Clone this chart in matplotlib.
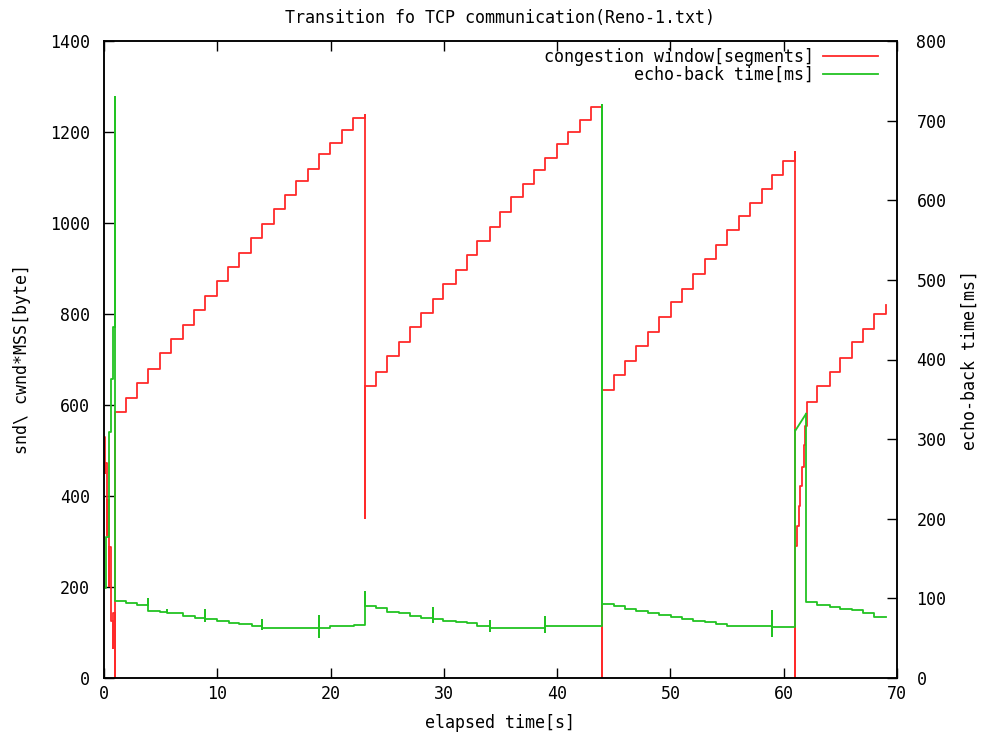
import matplotlib
matplotlib.use("Agg")
import matplotlib.pyplot as plt

# ---------------- data ----------------
# congestion window (left axis), step series (time [s], value)
cwnd_t = [0.0, 0.1, 0.12, 0.27, 0.3, 0.45, 0.47, 0.62, 0.64, 0.79, 0.81, 0.96, 1.01, 1.01,
          1.98, 2.93, 3.90, 4.98, 5.93, 6.98, 7.98, 8.95, 9.98, 10.95, 11.89, 13.01, 13.95,
          15.01, 15.94, 16.95, 18.01, 18.97, 19.95, 21.01, 21.98, 23.06, 23.06, 23.06,
          24.0, 24.97, 26.06, 26.97, 27.94, 29.03, 29.96, 31.06, 32.03, 32.96, 34.06, 34.99,
          35.96, 37.02, 37.96, 38.93, 40.02, 40.96, 42.05, 43.02, 43.93, 43.93,
          45.02, 45.99, 46.96, 48.02, 49.01, 50.07, 51.04, 51.96, 53.02, 53.99, 54.98, 56.04,
          56.98, 58.04, 59.01, 59.98, 61.04, 61.04, 61.04,
          61.18, 61.32, 61.46, 61.6, 61.75, 61.9, 62.04,
          62.94, 64.07, 64.97, 66.03, 67.0, 67.97, 69.07]
cwnd_v = [530, 450, 472, 314, 391, 202, 288, 125, 125, 66, 143, 44, 0, 585,
          616, 649, 680, 714, 744, 776, 808, 839, 873, 904, 933, 968, 998,
          1031, 1062, 1093, 1119, 1151, 1176, 1204, 1231, 1238, 352, 642,
          673, 708, 738, 772, 802, 832, 866, 897, 930, 960, 992, 1025,
          1057, 1086, 1116, 1143, 1174, 1201, 1227, 1256, 0, 633,
          666, 697, 730, 761, 794, 826, 856, 889, 921, 951, 985, 1015,
          1045, 1075, 1106, 1137, 1157, 0, 290,
          334, 378, 421, 464, 511, 554, 607,
          642, 672, 703, 738, 768, 801, 820]

# echo-back time (right axis), step series part 1 (time [s], ms)
echo_t = [0.0, 0.17, 0.41, 0.58, 0.79, 0.96, 1.0, 1.0,
          1.98, 2.93, 3.90, 3.90, 4.98, 5.57, 5.57, 6.98, 8.07, 8.95, 8.95, 8.95,
          9.98, 11.0, 11.89, 13.07, 13.95, 13.95, 13.95, 18.94, 18.94, 18.94,
          19.97, 22.03, 23.06, 23.06,
          24.0, 24.97, 26.06, 26.97, 27.94, 29.03, 29.03, 29.03,
          29.96, 31.06, 32.03, 32.91, 34.08, 34.08, 34.08, 38.93, 38.93, 38.93,
          43.93, 43.93,
          45.02, 45.99, 46.96, 48.02, 49.01, 50.07, 51.04, 51.96, 53.02, 53.99, 54.98,
          58.99, 58.99, 58.99, 61.04, 61.04]
echo_v = [113, 177, 309, 375, 441, 504, 730, 97,
          94.4, 92.2, 99, 84.6, 83.3, 86, 82, 77.8, 75, 85, 71, 74.5,
          71.6, 69.5, 67.4, 65.7, 73, 62, 63.2, 78, 52, 63.2,
          65.3, 66.6, 108, 90.9,
          88.3, 83.4, 81.2, 77.9, 75, 87.6, 70.7, 73.7,
          71.6, 70.0, 68.7, 65.7, 71.6, 59, 63.2, 76, 57.4, 65.3,
          720, 93,
          91, 87, 84, 82, 79, 77, 74, 72, 70, 68, 65,
          84, 53, 64, 64, 311]
# sloped part around the 61 s loss
echo_ramp_t = [61.04, 61.98]
echo_ramp_v = [311, 332]
# step series part 2
echo2_t = [61.98, 61.98, 62.94, 64.07, 64.97, 66.03, 67.0, 67.97, 69.07]
echo2_v = [332, 95, 92, 89, 87, 85, 82, 77, 77]

title = "Transition fo TCP communication(Reno-1.txt)"
xlabel = "elapsed time[s]"
ylabel_left = "snd\\ cwnd*MSS[byte]"
ylabel_right = "echo-back time[ms]"
label_cwnd = "congestion window[segments]"
label_echo = "echo-back time[ms]"
xticks = [0, 10, 20, 30, 40, 50, 60, 70]
yticks_left = [0, 200, 400, 600, 800, 1000, 1200, 1400]
yticks_right = [0, 100, 200, 300, 400, 500, 600, 700, 800]

# ---------------- style ----------------
FONT = "DejaVu Sans Mono"
FS = 12
RED = "#ff2a2a"
GREEN = "#22c322"
plt.rcParams["font.family"] = FONT

fig = plt.figure(figsize=(9.81, 7.34), dpi=100)
ax = fig.add_axes([104 / 981, 56 / 734, (897 - 104) / 981, (678 - 41) / 734])
ax2 = ax.twinx()

l1, = ax.plot(cwnd_t, cwnd_v, drawstyle="steps-post", color=RED, lw=1.3,
              label=label_cwnd)
l2, = ax2.plot(echo_t, echo_v, drawstyle="steps-post", color=GREEN, lw=1.3,
               label=label_echo)
ax2.plot(echo_ramp_t, echo_ramp_v, color=GREEN, lw=1.3)
ax2.plot(echo2_t, echo2_v, drawstyle="steps-post", color=GREEN, lw=1.3)

ax.set_xlim(0, 70)
ax.set_ylim(0, 1400)
ax2.set_ylim(0, 800)
ax.set_xticks(xticks)
ax.set_yticks(yticks_left)
ax2.set_yticks(yticks_right)

ax.tick_params(axis="both", direction="in", length=7, width=1.0, labelsize=FS,
               top=True, right=False)
ax.tick_params(axis="y", pad=10)
ax.tick_params(axis="x", pad=5)
ax2.tick_params(axis="y", direction="in", length=7, width=1.0, labelsize=FS, pad=14)
for a in (ax, ax2):
    for s in a.spines.values():
        s.set_linewidth(1.1)
        s.set_color("black")

ax.set_title(title, fontsize=FS, pad=13)
ax.set_xlabel(xlabel, fontsize=FS, labelpad=8)
ax.set_ylabel(ylabel_left, fontsize=FS, labelpad=14)
ax2.set_ylabel(ylabel_right, fontsize=FS, labelpad=10)

leg = ax2.legend(handles=[l1, l2], loc="upper right", frameon=False, markerfirst=False,
                 fontsize=FS, handlelength=3.3, handletextpad=0.55, labelspacing=0.0,
                 borderaxespad=0.0, bbox_to_anchor=(0.985, 1.0))

fig.savefig("out.png", dpi=100)
